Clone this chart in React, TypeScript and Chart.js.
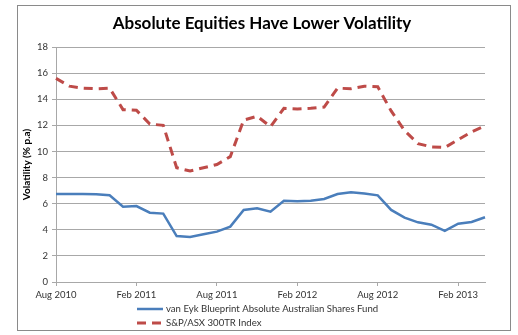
import React, { useEffect, useRef } from "react";
import { Chart, registerables } from "chart.js";

Chart.register(...registerables);

const categories = [
  "Aug 2010", "Sep 2010", "Oct 2010", "Nov 2010", "Dec 2010",
  "Jan 2011", "Feb 2011", "Mar 2011", "Apr 2011", "May 2011", "Jun 2011",
  "Jul 2011", "Aug 2011", "Sep 2011", "Oct 2011", "Nov 2011", "Dec 2011",
  "Jan 2012", "Feb 2012", "Mar 2012", "Apr 2012", "May 2012", "Jun 2012",
  "Jul 2012", "Aug 2012", "Sep 2012", "Oct 2012", "Nov 2012", "Dec 2012",
  "Jan 2013", "Feb 2013", "Mar 2013", "Apr 2013",
];

const vanEykFund = [
  6.74, 6.74, 6.74, 6.72, 6.64,
  5.77, 5.82, 5.31, 5.24, 3.52, 3.45,
  3.65, 3.86, 4.24, 5.52, 5.64, 5.39,
  6.23, 6.18, 6.23, 6.36, 6.74, 6.87,
  6.77, 6.64, 5.52, 4.93, 4.57, 4.39,
  3.91, 4.47, 4.6, 4.96,
];

const asx300 = [
  15.6, 15.0, 14.85, 14.8, 14.85,
  13.2, 13.15, 12.1, 12.0, 8.75, 8.5,
  8.75, 9.0, 9.6, 12.4, 12.7, 11.9,
  13.3, 13.25, 13.3, 13.4, 14.85, 14.8,
  15.0, 14.95, 13.1, 11.6, 10.6, 10.35,
  10.3, 10.9, 11.5, 11.95,
];

const seriesNames = [
  "van Eyk Blueprint Absolute Australian Shares Fund",
  "S&P/ASX 300TR Index",
];

const chartTitle = "Absolute Equities Have Lower Volatility";
const yAxisTitle = "Volatility (% p.a)";
const yMin = 0;
const yMax = 18;
const yStep = 2;
const labelEvery = 6;

const FONT = "Lato, 'Liberation Sans', sans-serif";
const TEXT = "#333333";
const GRID = "#a8a8a8";

const frameTitleLegend = {
  id: "frameTitleLegend",
  beforeDraw(chart: any) {
    const ctx = chart.ctx;
    ctx.save();
    ctx.fillStyle = "#ffffff";
    ctx.fillRect(0, 0, chart.width, chart.height);
    ctx.restore();
  },
  afterDraw(chart: any) {
    const ctx = chart.ctx;
    const area = chart.chartArea;
    ctx.save();
    ctx.strokeStyle = "#8a8a8a";
    ctx.lineWidth = 1;
    ctx.strokeRect(17.5, 5.5, 493, 325);

    ctx.fillStyle = "#000000";
    ctx.font = `bold 17px ${FONT}`;
    ctx.textAlign = "center";
    ctx.textBaseline = "middle";
    ctx.fillText(chartTitle, 262, 24);

    chart.data.datasets.forEach((ds: any, i: number) => {
      const y = area.bottom + 27 + i * 14;
      const x = area.left + 81;
      ctx.beginPath();
      ctx.setLineDash(ds.borderDash || []);
      ctx.strokeStyle = ds.borderColor;
      ctx.lineWidth = ds.borderWidth;
      ctx.moveTo(x, y);
      ctx.lineTo(x + 26, y);
      ctx.stroke();
      ctx.setLineDash([]);
      ctx.fillStyle = TEXT;
      ctx.font = `9.6px ${FONT}`;
      ctx.textBaseline = "middle";
      ctx.textAlign = "left";
      ctx.fillText(ds.label, x + 29, y);
    });
    ctx.restore();
  },
};

export default function App() {
  const canvasRef = useRef<HTMLCanvasElement | null>(null);

  useEffect(() => {
    if (!canvasRef.current) return;
    const chart = new Chart(canvasRef.current, {
      type: "line",
      data: {
        labels: categories,
        datasets: [
          {
            label: seriesNames[0],
            data: vanEykFund,
            borderColor: "#4a7ebb",
            backgroundColor: "#4a7ebb",
            borderWidth: 2.5,
            pointRadius: 0,
            tension: 0,
          },
          {
            label: seriesNames[1],
            data: asx300,
            borderColor: "#be4b48",
            backgroundColor: "#be4b48",
            borderWidth: 3,
            borderDash: [9, 6],
            pointRadius: 0,
            tension: 0,
          },
        ],
      },
      options: {
        responsive: false,
        animation: false,
        events: [],
        layout: { padding: { left: 17, right: 33, top: 47, bottom: 33 } },
        plugins: {
          legend: { display: false },
          tooltip: { enabled: false },
          title: { display: false },
        },
        scales: {
          x: {
            offset: false,
            afterFit(scale: any) {
              scale.height = 20;
            },
            grid: {
              drawOnChartArea: false,
              drawTicks: true,
              tickLength: 4,
              tickColor: (c: any) => (c.index % labelEvery === 0 ? GRID : "rgba(0,0,0,0)"),
            },
            border: { display: true, color: GRID, width: 1 },
            ticks: {
              autoSkip: false,
              maxRotation: 0,
              minRotation: 0,
              padding: 3,
              color: TEXT,
              font: { family: FONT, size: 9.5 },
              callback: (_v: any, i: number) => (i % labelEvery === 0 ? categories[i] : ""),
            },
          },
          y: {
            min: yMin,
            max: yMax,
            afterFit(scale: any) {
              scale.width = 39;
            },
            grid: {
              color: GRID,
              drawTicks: true,
              tickLength: 4,
              tickColor: GRID,
            },
            border: { display: true, color: GRID, width: 1 },
            ticks: {
              stepSize: yStep,
              padding: 4,
              color: TEXT,
              font: { family: FONT, size: 9.5 },
            },
            title: {
              display: true,
              text: yAxisTitle,
              color: "#000000",
              font: { family: FONT, size: 10, weight: "bold" },
              padding: { top: 4, bottom: 0 },
            },
          },
        },
      },
      plugins: [frameTitleLegend],
    } as any);
    return () => chart.destroy();
  }, []);

  return (
    <div style={{ position: "absolute", left: 0, top: 0, width: 518, height: 335 }}>
      <canvas ref={canvasRef} width={518} height={335} style={{ display: "block", width: 518, height: 335 }} />
    </div>
  );
}
